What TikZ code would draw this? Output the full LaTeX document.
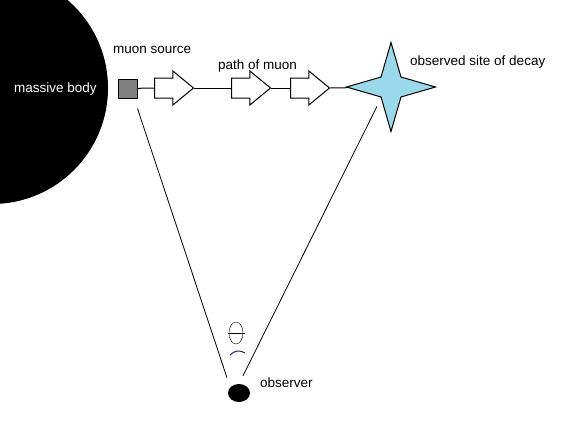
\documentclass[tikz,border=0pt]{standalone}
\usepackage{fontspec}
\setmainfont{Liberation Sans}
\usetikzlibrary{shapes.geometric, shapes.arrows, positioning}
\definecolor{skyblue}{RGB}{153,217,234}
\definecolor{inkblue}{RGB}{30,40,90}

\begin{document}
\begin{tikzpicture}[
        x=1pt, y=-1pt,
        lbl/.style={font=\fontsize{13.5}{16}\selectfont, inner sep=0pt, anchor=base west},
        flight/.style={single arrow, draw, fill=white, line width=1pt, inner sep=0pt, text height=9.5pt, text depth=9.5pt, minimum height=39pt, minimum width=33pt, single arrow head extend=7pt, single arrow tip angle=79, anchor=tail},
        link/.style={line width=1pt},
        sight/.style={line width=0.8pt}
    ]
    \clip (0,0) rectangle (565,431);

    \node[circle, fill=black, minimum size=232pt, inner sep=0pt] (body) at (-8,88) {};
    \node[lbl, text=white] (bodylbl) at (14,92) {massive body};

    \node[draw, fill=gray, line width=1pt, minimum size=19pt, inner sep=0pt] (src) at (127.5,88.5) {};
    \node[flight] (a1) at (154,88) {};
    \node[flight] (a2) at (231,88) {};
    \node[flight] (a3) at (290,88) {};
    \node[star, star points=4, star point ratio=3.15, minimum size=89pt, inner sep=0pt, draw, fill=skyblue, line width=1pt] (site) at (391,87) {};
    \node[ellipse, fill=black, minimum width=22pt, minimum height=18pt, inner sep=0pt] (obs) at (239,393) {};

    \node[lbl] (srclbl) at (113,53) {muon source};
    \node[lbl] (pathlbl) at (218,69) {path of muon};
    \node[lbl] (sitelbl) at (410,65) {observed site of decay};
    \node[lbl] (obslbl) at (260,387) {observer};

    \draw[link] (src) -- (a1.tail);
    \draw[link] (a1.tip) -- (a2.tail);
    \draw[link] (a2.tip) -- (a3.tail);
    \draw[link] (a3.tip) -- (site);

    \draw[sight] ([yshift=-10pt]src.south east) -- ([xshift=-12pt, yshift=6pt]obs.north);
    \draw[sight] ([xshift=-14pt, yshift=27pt]site.south) -- ([xshift=4pt, yshift=8pt]obs.north);

    % angle mark
    \draw (236,333) ellipse [x radius=7pt, y radius=11pt];
    \draw (228,333) -- (245,333);
    \draw[inkblue, line width=1pt] (230,355) .. controls (235,350) and (240,350) .. (245,353);
\end{tikzpicture}
\end{document}
